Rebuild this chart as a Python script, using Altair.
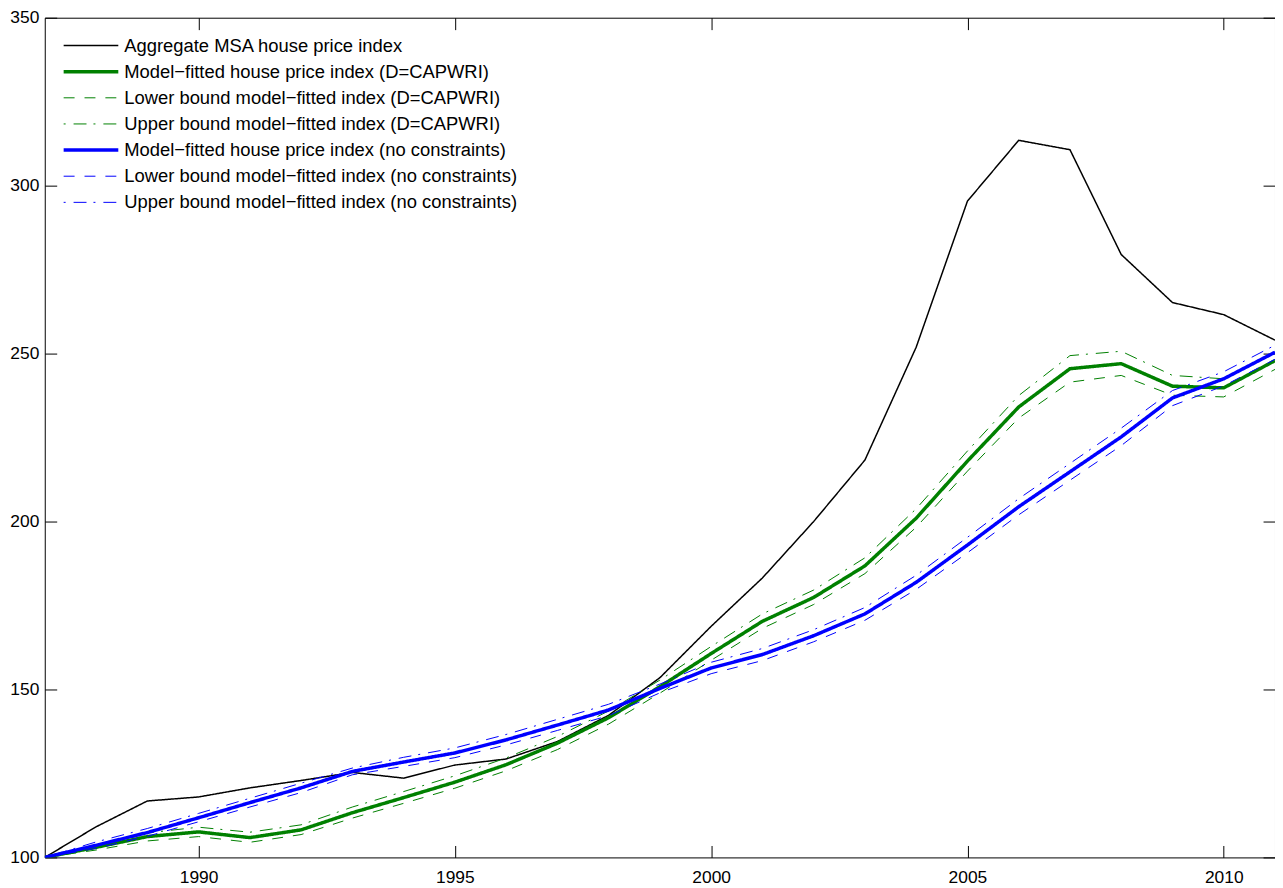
import altair as alt
import pandas as pd

years = list(range(1987, 2012))

aggregate = [100, 109.1, 116.8, 118.0, 120.7, 122.9, 125.3, 123.6, 127.5, 129.3, 134.5,
             142.3, 153.5, 168.8, 183.2, 200.0, 218.3, 251.9, 295.4, 313.5, 310.7,
             279.5, 265.2, 261.6, 254.0]

capwri_fit = [100, 103.0, 106.2, 107.6, 105.9, 108.2, 113.3, 117.8, 122.4, 127.6, 134.0,
              141.6, 150.8, 160.7, 170.3, 177.4, 186.8, 201.0, 218.0, 234.1, 245.5,
              247.0, 240.3, 239.8, 247.9]
capwri_lower = [100, 102.2, 104.9, 106.2, 104.5, 106.8, 111.7, 116.1, 120.6, 125.8, 132.1,
                139.7, 148.9, 158.7, 168.2, 175.3, 184.5, 198.3, 215.0, 230.8, 241.5,
                243.5, 237.6, 237.1, 245.3]
capwri_upper = [100, 103.6, 107.3, 109.0, 107.5, 109.7, 115.0, 119.6, 124.3, 129.6, 136.0,
                143.6, 152.8, 162.8, 172.5, 179.6, 189.2, 203.8, 221.0, 237.5, 249.4,
                250.7, 243.5, 242.5, 250.5]

nc_fit = [100, 103.6, 107.4, 111.8, 116.3, 120.7, 125.6, 128.4, 131.1, 135.0, 139.4,
          143.9, 150.3, 156.4, 160.4, 166.0, 172.5, 181.9, 193.0, 204.4, 214.8,
          225.2, 236.8, 242.5, 250.4]
nc_lower = [100, 102.7, 106.3, 110.6, 115.0, 119.3, 124.6, 127.1, 129.7, 133.5, 137.8,
            142.2, 149.0, 154.7, 158.6, 164.2, 170.6, 179.8, 190.7, 202.0, 212.3,
            222.6, 234.5, 240.4, 248.3]
nc_upper = [100, 104.6, 108.6, 113.1, 117.6, 122.1, 126.6, 129.8, 132.6, 136.6, 141.1,
            145.6, 151.6, 158.1, 162.2, 167.8, 174.4, 184.0, 195.3, 206.8, 217.3,
            227.8, 239.0, 244.6, 252.5]

series_names = [
    "Aggregate MSA house price index",
    "Model\u2212fitted house price index (D=CAPWRI)",
    "Lower bound model\u2212fitted index (D=CAPWRI)",
    "Upper bound model\u2212fitted index (D=CAPWRI)",
    "Model\u2212fitted house price index (no constraints)",
    "Lower bound model\u2212fitted index (no constraints)",
    "Upper bound model\u2212fitted index (no constraints)",
]
series_values = [aggregate, capwri_fit, capwri_lower, capwri_upper, nc_fit, nc_lower, nc_upper]

colors = ["#000000", "#008000", "#008000", "#008000", "#0000ff", "#0000ff", "#0000ff"]
dashes = [[1, 0], [1, 0], [11, 10], [2, 8, 13, 7], [1, 0], [11, 10], [2, 8, 13, 7]]
widths = [1.5, 3.5, 1, 1, 3.5, 1, 1]

x_ticks = [1990, 1995, 2000, 2005, 2010]
y_ticks = [100, 150, 200, 250, 300, 350]

rows = []
for i, (name, vals) in enumerate(zip(series_names, series_values)):
    for yr, v in zip(years, vals):
        rows.append({"year": yr, "value": v, "series": name, "k": i})
df = pd.DataFrame(rows)

FONT = "Liberation Sans"
xscale = alt.Scale(domain=[1987, 2011], nice=False, zero=False)
yscale = alt.Scale(domain=[100, 350], nice=False, zero=False)

lines = alt.Chart(df).mark_line(clip=True).encode(
    x=alt.X("year:Q", scale=xscale, title=None,
            axis=alt.Axis(values=x_ticks, format="d", orient="bottom", offset=-12,
                          tickSize=12, labelPadding=11, domain=False, grid=False)),
    y=alt.Y("value:Q", scale=yscale, title=None,
            axis=alt.Axis(values=y_ticks, format="d", orient="left", offset=-12,
                          tickSize=12, labelPadding=6, domain=False, grid=False)),
    color=alt.Color("series:N", scale=alt.Scale(domain=series_names, range=colors),
                    legend=alt.Legend(title=None)),
    strokeDash=alt.StrokeDash("series:N", scale=alt.Scale(domain=series_names, range=dashes),
                              legend=alt.Legend(title=None)),
    strokeWidth=alt.StrokeWidth("series:N", scale=alt.Scale(type="ordinal", domain=series_names, range=widths),
                                legend=alt.Legend(title=None)),
    order=alt.Order("k:Q"),
)

frame = alt.Chart(df[df["k"] == 0]).mark_line(opacity=0).encode(
    x=alt.X("year:Q", scale=xscale, title=None,
            axis=alt.Axis(values=x_ticks, orient="top", offset=-12, tickSize=12,
                          labels=False, domain=False, grid=False)),
    y=alt.Y("value:Q", scale=yscale, title=None,
            axis=alt.Axis(values=y_ticks, orient="right", offset=-12, tickSize=12,
                          labels=False, domain=False, grid=False)),
)

chart = alt.layer(lines, frame).resolve_axis(
    x="independent", y="independent"
).properties(
    width=1238, height=845,
    autosize=alt.AutoSizeParams(type="none"),
    padding={"left": 37, "top": 7, "right": 0, "bottom": 28},
    background="white",
).configure_view(
    stroke="black", strokeWidth=1
).configure_axis(
    labelFont=FONT, labelFontSize=17.5, labelColor="black",
    tickColor="black", tickWidth=1,
).configure_legend(
    orient="none", legendX=17, legendY=19, padding=0,
    labelFont=FONT, labelFontSize=18.5, labelColor="black", labelLimit=700,
    symbolSize=3025, symbolType="stroke", labelOffset=4, rowPadding=7.3,
    clipHeight=18,
)

chart.save("out.html", embed_options={"renderer": "svg", "actions": False})
